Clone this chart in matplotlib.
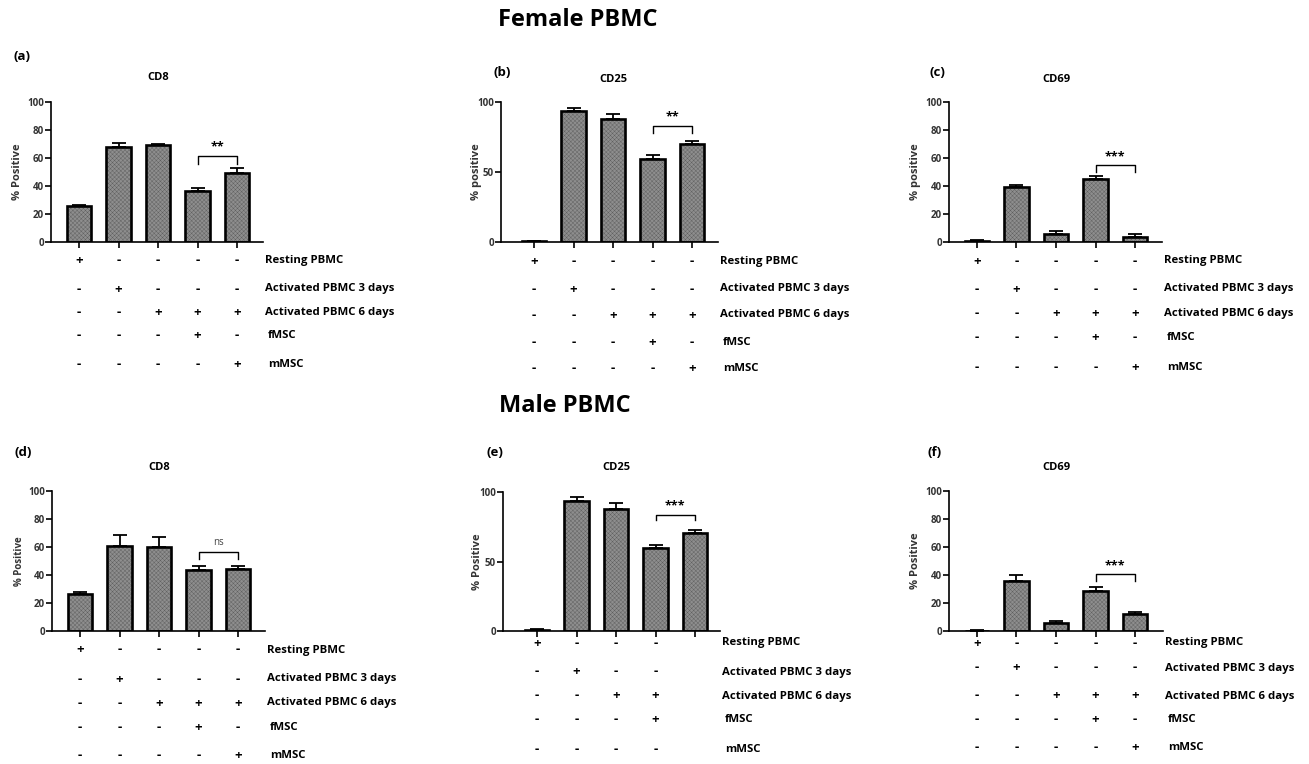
import matplotlib
matplotlib.use("Agg")
import matplotlib.pyplot as plt
from matplotlib.transforms import blended_transform_factory

plt.rcParams['font.family'] = ['Open Sans', 'DejaVu Sans']
plt.rcParams['hatch.linewidth'] = 0.3

# bar heights (% positive) and upper error
f_cd8 = [25.4, 68.0, 69.0, 36.5, 49.5]
f_cd8_err = [1.1, 2.9, 0.7, 1.9, 3.5]
f_cd25 = [0.5, 93.6, 87.6, 59.1, 70.3]
f_cd25_err = [0.4, 2.4, 3.8, 2.7, 1.9]
f_cd69 = [0.6, 39.4, 6.0, 45.3, 3.6]
f_cd69_err = [0.6, 1.2, 1.9, 2.0, 1.9]
m_cd8 = [26.4, 60.7, 59.8, 43.8, 44.5]
m_cd8_err = [1.7, 7.9, 7.1, 2.4, 2.2]
m_cd25 = [0.8, 93.8, 87.5, 59.5, 70.5]
m_cd25_err = [0.7, 2.4, 4.3, 2.6, 1.9]
m_cd69 = [0.3, 35.8, 5.7, 28.4, 12.2]
m_cd69_err = [0.3, 4.3, 1.5, 3.1, 1.4]

# significance bracket between bar 4 and bar 5
sig_labels = ['**', '**', '***', 'ns', '***', '***']
sig_height = [61.6, 82.9, 54.9, 56.4, 83.7, 40.6]
sig_drop = [5.6, 5.2, 4.9, 5.2, 3.6, 5.0]

row_names = ['Resting PBMC', 'Activated PBMC 3 days', 'Activated PBMC 6 days', 'fMSC', 'mMSC']
signs = [['+', '-', '-', '-', '-'],
         ['-', '+', '-', '-', '-'],
         ['-', '-', '+', '+', '+'],
         ['-', '-', '-', '+', '-'],
         ['-', '-', '-', '-', '+']]
signs_e = [['+', '-', '-', '-', ''],
           ['-', '+', '-', '-', ''],
           ['-', '-', '+', '+', ''],
           ['-', '-', '-', '+', ''],
           ['-', '-', '-', '-', '']]

tags = ['(a)', '(b)', '(c)', '(d)', '(e)', '(f)']
titles = ['CD8', 'CD25', 'CD69', 'CD8', 'CD25', 'CD69']
ylabels = ['% Positive', '% positive', '% positive', '% Positive', '% Positive', '% Positive']
values = [f_cd8, f_cd25, f_cd69, m_cd8, m_cd25, m_cd69]
errors = [f_cd8_err, f_cd25_err, f_cd69_err, m_cd8_err, m_cd25_err, m_cd69_err]
sign_tables = [signs, signs, signs, signs, signs_e, signs]
yticks = [[0, 20, 40, 60, 80, 100], [0, 50, 100], [0, 20, 40, 60, 80, 100],
          [0, 20, 40, 60, 80, 100], [0, 50, 100], [0, 20, 40, 60, 80, 100]]

# layout in pixels: axes (left, top, right, bottom), first bar centre, rows y, tag xy, title y, ylabel x
W, H = 1309, 764
boxes = [(51, 102, 263, 242), (501, 102, 718, 242), (949, 102, 1162, 242),
         (52, 491, 265, 631), (503, 492, 720, 631), (949, 491, 1163, 631)]
first_bar = [79, 534, 977, 80, 537, 977]
rows_y = [[260, 289, 313, 336, 365], [262, 289, 315, 342, 368], [261, 289, 314, 338, 367],
          [650, 679, 703, 727, 755], [643, 672, 696, 719, 749], [643, 668, 696, 720, 748]]
tag_xy = [(22, 57), (502, 73), (937, 72), (23, 452), (495, 452), (935, 452)]
title_y = [78, 79, 79, 468, 468, 468]
ylab_x = [18, 477, 915, 20, 478, 916]
ylab_size = [8, 8, 8, 7, 8, 8]
step = 39.5

fig = plt.figure(figsize=(W / 100, H / 100), dpi=100)

def fx(x):
    return x / W

def fy(y):
    return 1 - y / H

for i in range(6):
    l, t, r, b = boxes[i]
    ax = fig.add_axes([fx(l), fy(b), fx(r) - fx(l), fy(t) - fy(b)])
    x = list(range(5))
    ax.set_xlim(-(first_bar[i] - l) / step, (r - first_bar[i]) / step)
    ax.set_ylim(0, 100)

    ax.bar(x, values[i], width=0.63, color='#8e8e8e', hatch='xxxxxxxx',
           edgecolor='#5e5e5e', linewidth=0, zorder=2)
    ax.bar(x, values[i], width=0.63, fill=False, edgecolor='black',
           linewidth=1.9, zorder=3)
    ax.errorbar(x, values[i], yerr=[[0] * 5, errors[i]], fmt='none',
                ecolor='black', elinewidth=1.3, capsize=5, capthick=1.3,
                zorder=1, clip_on=False)

    # bracket
    h, d = sig_height[i], sig_drop[i]
    ax.plot([3, 3, 4, 4], [h - d, h, h, h - d], color='black', lw=1.0, clip_on=False)
    if sig_labels[i] == 'ns':
        ax.text(3.5, h + 3, 'ns', ha='center', va='bottom', fontsize=7, color='#444444')
    else:
        ax.text(3.5, h + 1.5, sig_labels[i], ha='center', va='bottom', fontsize=9,
                fontweight='bold')

    for s in ['top', 'right']:
        ax.spines[s].set_visible(False)
    for s in ['left', 'bottom']:
        ax.spines[s].set_linewidth(1.2)
    ax.set_xticks(x)
    ax.set_xticklabels([])
    ax.set_yticks(yticks[i])
    ax.tick_params(axis='y', length=4, width=1.2, labelsize=7, pad=1)
    ax.tick_params(axis='x', length=4, width=1.2)
    for lab in ax.get_yticklabels():
        lab.set_fontweight('bold')
        lab.set_color('#333333')

    ax.text(2, fy(title_y[i]), titles[i], transform=blended_transform_factory(ax.transData, fig.transFigure),
            ha='center', va='center', fontsize=8, fontweight='bold')
    fig.text(fx(tag_xy[i][0]), fy(tag_xy[i][1]), tags[i], ha='center', va='center',
             fontsize=9.5, fontweight='bold')
    fig.text(fx(ylab_x[i]), fy((t + b) / 2), ylabels[i], rotation=90, ha='center', va='center',
             fontsize=ylab_size[i], fontweight='bold', color='#333333')

    # condition table under the axis
    tr = blended_transform_factory(ax.transData, fig.transFigure)
    for k, name in enumerate(row_names):
        yy = fy(rows_y[i][k])
        for j in range(5):
            ax.text(j, yy, sign_tables[i][k][j], transform=tr, ha='center', va='center',
                    fontsize=9.5, fontweight='bold')
        indent = 3 if name in ('fMSC', 'mMSC') else 0
        fig.text(fx(r + 2 + indent), yy, name, ha='left', va='center', fontsize=8.2,
                 fontweight='bold')

fig.text(fx(578), fy(20), 'Female PBMC', ha='center', va='center', fontsize=17, fontweight='bold')
fig.text(fx(565), fy(406), 'Male PBMC', ha='center', va='center', fontsize=17, fontweight='bold')

fig.savefig('out.png', dpi=100)
